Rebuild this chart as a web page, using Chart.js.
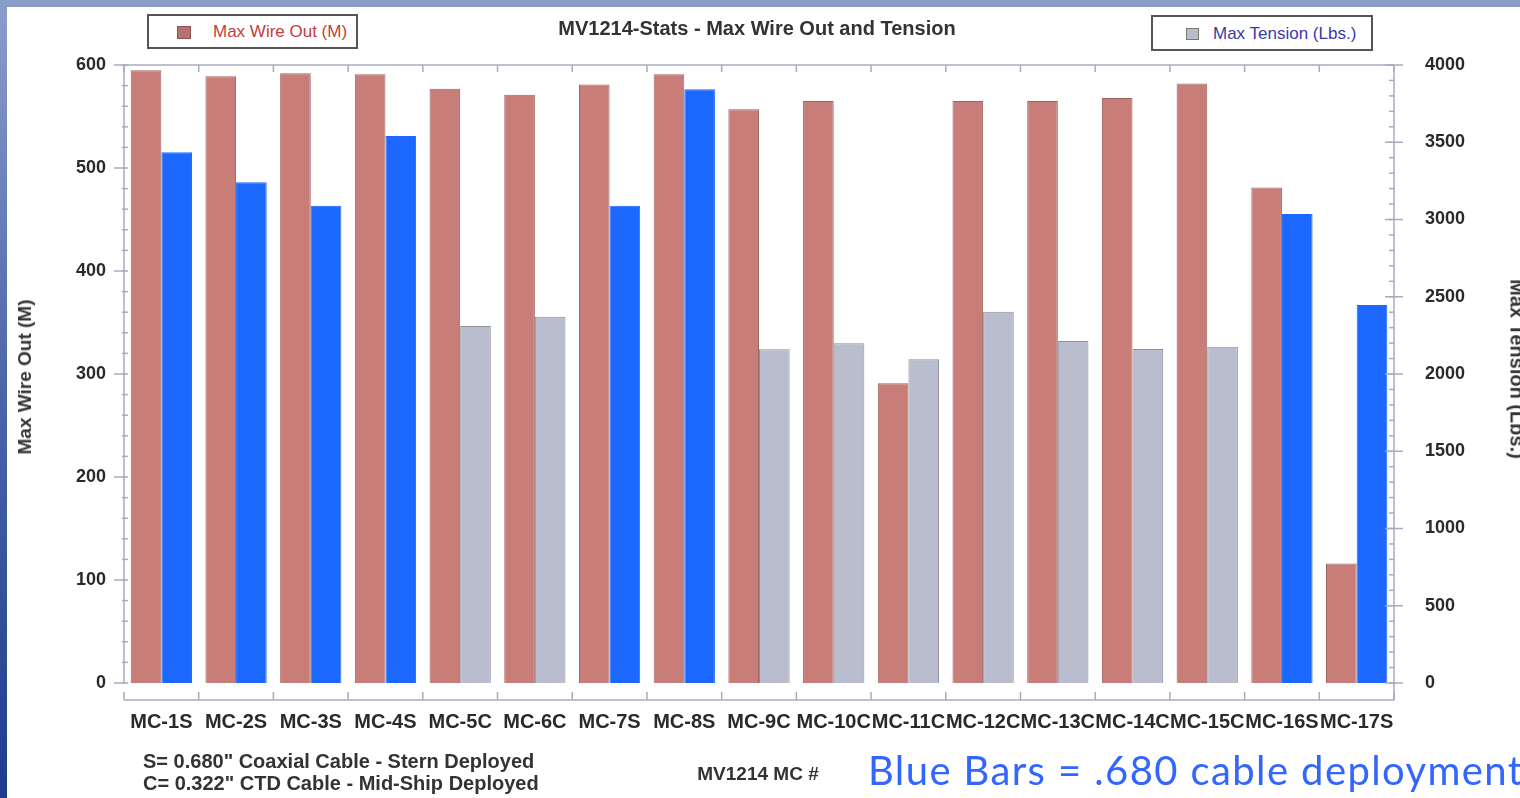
<!DOCTYPE html>
<html>
<head>
<meta charset="utf-8">
<script src="https://cdn.jsdelivr.net/npm/chart.js@4.4.1/dist/chart.umd.min.js"></script>
<style>
  body { margin: 0; width: 1520px; height: 798px; overflow: hidden; position: relative;
         background: linear-gradient(to bottom, #8b9dcb 0%, #4f69ae 45%, #1e3b8c 100%);
         font-family: "Liberation Sans", Arial, sans-serif; }
  #panel { position: absolute; left: 7px; top: 7px; right: 0; bottom: 0; background: #fff; }
  #chart { position: absolute; left: 0; top: 0; }
  .txt { position: absolute; white-space: nowrap; }
  .legend { position: absolute; border: 2px solid #555; box-sizing: border-box; background: #fff; }
  .swatch { position: absolute; box-sizing: border-box; }
</style>
</head>
<body>
<div id="panel"></div>
<canvas id="chart" width="1520" height="798"></canvas>

<div class="txt" id="title" style="left:757px; top:28px; transform:translate(-50%,-50%); font-weight:bold; font-size:20px; color:#333;">MV1214-Stats - Max Wire Out and Tension</div>

<div class="legend" style="left:147px; top:14px; width:211px; height:35px;"></div>
<div class="swatch" style="left:177px; top:26px; width:14px; height:13px; background:#b9706e; border:1px solid #8a5454;"></div>
<div class="txt" style="left:213px; top:32px; transform:translateY(-50%); font-size:17px; color:#c43c3c;">Max Wire Out (M)</div>

<div class="legend" style="left:1151px; top:15px; width:222px; height:36px;"></div>
<div class="swatch" style="left:1186px; top:28px; width:13px; height:12px; background:#b9bccb; border:1px solid #777;"></div>
<div class="txt" style="left:1213px; top:34px; transform:translateY(-50%); font-size:17px; color:#3a3aa8;">Max Tension (Lbs.)</div>

<div class="txt" style="left:25px; top:377px; transform:translate(-50%,-50%) rotate(-90deg); font-weight:bold; font-size:19px; color:#333;">Max Wire Out (M)</div>
<div class="txt" style="left:1517px; top:369px; transform:translate(-50%,-50%) rotate(90deg); font-weight:bold; font-size:20px; color:#333;">Max Tension (Lbs.)</div>

<div class="txt" style="left:143px; top:761px; transform:translateY(-50%); font-weight:bold; font-size:20px; color:#333;">S= 0.680" Coaxial Cable - Stern Deployed</div>
<div class="txt" style="left:143px; top:783px; transform:translateY(-50%); font-weight:bold; font-size:20px; color:#333;">C= 0.322" CTD Cable - Mid-Ship Deployed</div>
<div class="txt" style="left:758px; top:774px; transform:translate(-50%,-50%); font-weight:bold; font-size:19px; color:#333;">MV1214 MC #</div>
<div class="txt" style="left:868px; top:750px; line-height:40px; font-family:Lato, sans-serif; font-size:40px; letter-spacing:1.4px; color:#3366ff;">Blue Bars = .680 cable deployment</div>

<script>
// chart data
const categories = ["MC-1S", "MC-2S", "MC-3S", "MC-4S", "MC-5C", "MC-6C", "MC-7S", "MC-8S", "MC-9C",
  "MC-10C", "MC-11C", "MC-12C", "MC-13C", "MC-14C", "MC-15C", "MC-16S", "MC-17S"];
const maxWireOut = [595, 589, 592, 591, 577, 571, 581, 591, 557, 565, 291, 565, 565, 568, 582, 481, 116];
const maxTension = [3435, 3241, 3089, 3540, 2311, 2371, 3089, 3843, 2160, 2199, 2095, 2403, 2214, 2162, 2177, 3036, 2447];
const wireTicks = [0, 100, 200, 300, 400, 500, 600];
const tensionTicks = [0, 500, 1000, 1500, 2000, 2500, 3000, 3500, 4000];

const RED = "#c87d78", RED_EDGE = "#9c6461";
const BLUE = "#1c68ff";
const GRAY = "#babdce", GRAY_EDGE = "#8f909c";
const AXIS = "#a9abbd";

// stern deployed (S) cables are blue, mid-ship (C) are gray
const tensionFill = categories.map(c => c.endsWith("S") ? BLUE : GRAY);
const tensionEdge = categories.map(c => c.endsWith("S") ? BLUE : GRAY_EDGE);

// axis lines, ticks and minor ticks drawn from the scales
const axisDecor = {
  id: "axisDecor",
  afterDatasetsDraw(chart) {
    const { ctx, chartArea: a, scales } = chart;
    const x = scales.x, y = scales.y, y1 = scales.y1;
    const base = a.bottom + 17;
    const seg = (x1, y1p, x2, y2) => { ctx.beginPath(); ctx.moveTo(x1, y1p); ctx.lineTo(x2, y2); ctx.stroke(); };
    ctx.save();
    ctx.strokeStyle = AXIS;
    ctx.lineWidth = 1.5;
    seg(a.left, a.top, a.right, a.top);
    seg(a.left, a.top, a.left, a.bottom);
    seg(a.right, a.top, a.right, base);
    seg(a.left, base, a.right, base);
    const step = x.getPixelForValue(1) - x.getPixelForValue(0);
    for (let i = 0; i <= categories.length; i++) {
      const bx = x.getPixelForValue(0) - step / 2 + i * step;
      seg(bx, a.top, bx, a.top + 7);
      seg(bx, base, bx, base - 8);
    }
    wireTicks.forEach(v => { const p = y.getPixelForValue(v); seg(a.left - 10, p, a.left, p); });
    for (let v = 0; v <= 600; v += 20) { const p = y.getPixelForValue(v); seg(a.left - 2, p, a.left + 4, p); }
    tensionTicks.forEach(v => { const p = y1.getPixelForValue(v); seg(a.right - 9, p, a.right + 9, p); });
    for (let v = 0; v <= 4000; v += 100) { const p = y1.getPixelForValue(v); seg(a.right - 5, p, a.right, p); }
    ctx.restore();
  }
};

const tickFont = { family: "'Liberation Sans', Arial, sans-serif", size: 18, weight: "bold" };

new Chart(document.getElementById("chart").getContext("2d"), {
  type: "bar",
  data: {
    labels: categories,
    datasets: [
      {
        label: "Max Wire Out (M)",
        data: maxWireOut,
        yAxisID: "y",
        backgroundColor: RED,
        borderColor: RED_EDGE,
        borderWidth: 1
      },
      {
        label: "Max Tension (Lbs.)",
        data: maxTension,
        yAxisID: "y1",
        backgroundColor: tensionFill,
        borderColor: tensionEdge,
        borderWidth: 1
      }
    ]
  },
  options: {
    responsive: false,
    animation: false,
    devicePixelRatio: 1,
    categoryPercentage: 0.82,
    barPercentage: 1.0,
    layout: { padding: { top: 65, left: 0, right: 0, bottom: 0 } },
    plugins: { legend: { display: false }, tooltip: { enabled: false } },
    scales: {
      x: {
        grid: { display: false, drawTicks: false },
        border: { display: false },
        ticks: { font: { ...tickFont, size: 20 }, color: "#2a2a2a", padding: 27, autoSkip: false, maxRotation: 0 },
        afterFit: s => { s.height = 115; }
      },
      y: {
        position: "left",
        min: 0, max: 600,
        afterBuildTicks: s => { s.ticks = wireTicks.map(v => ({ value: v })); },
        grid: { display: false, drawTicks: false },
        border: { display: false },
        ticks: { font: tickFont, color: "#2a2a2a", padding: 18, callback: v => String(v) },
        afterFit: s => { s.width = 124; }
      },
      y1: {
        position: "right",
        min: 0, max: 4000,
        afterBuildTicks: s => { s.ticks = tensionTicks.map(v => ({ value: v })); },
        grid: { display: false, drawTicks: false },
        border: { display: false },
        ticks: { font: tickFont, color: "#2a2a2a", padding: 31, callback: v => String(v) },
        afterFit: s => { s.width = 126; }
      }
    }
  },
  plugins: [axisDecor]
});
</script>
</body>
</html>
